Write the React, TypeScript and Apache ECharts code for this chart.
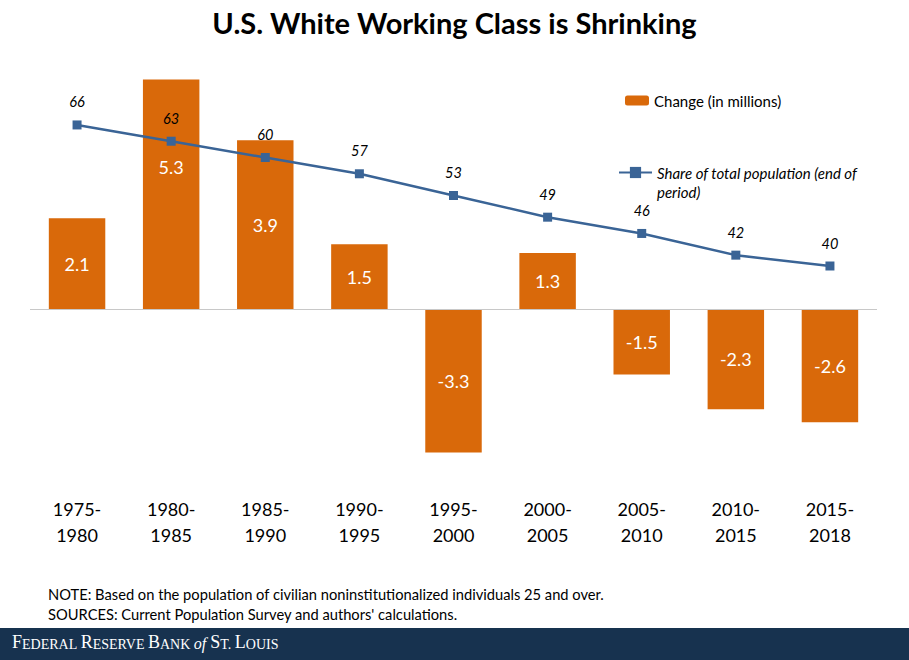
import React, { useEffect, useRef } from "react";
import * as echarts from "echarts";

const categories = ["1975-\n1980", "1980-\n1985", "1985-\n1990", "1990-\n1995", "1995-\n2000", "2000-\n2005", "2005-\n2010", "2010-\n2015", "2015-\n2018"];
const changeMillions = [2.1, 5.3, 3.9, 1.5, -3.3, 1.3, -1.5, -2.3, -2.6];
const sharePct = [66, 63, 60, 57, 53, 49, 46, 42, 40];
const barName = "Change (in millions)";
const lineName = "Share of total population (end of period)";

const FONT = "Lato, 'Open Sans', sans-serif";
const ORANGE = "#D9690A";
const BLUE = "#3A6496";

export default function App() {
  const ref = useRef<HTMLDivElement>(null);
  useEffect(() => {
    document.body.style.margin = "0";
    const chart = echarts.init(ref.current!, undefined, { renderer: "svg" });
    chart.setOption({
      animation: false,
      backgroundColor: "#ffffff",
      textStyle: { fontFamily: FONT },
      title: {
        text: "U.S. White Working Class is Shrinking",
        left: "center",
        top: 3,
        textStyle: { fontFamily: FONT, fontSize: 29, fontWeight: "bold", color: "#000" },
      },
      legend: [
        {
          data: [barName],
          left: 620,
          top: 88,
          itemWidth: 24,
          itemHeight: 10,
          itemGap: 4,
          textStyle: { fontFamily: FONT, fontSize: 15, color: "#000" },
        },
        {
          data: [lineName],
          left: 613,
          top: 139,
          itemWidth: 33,
          itemHeight: 14,
          formatter: () => "\nShare of total population (end of\nperiod)",
          textStyle: {
            fontFamily: FONT,
            fontSize: 15,
            fontStyle: "italic",
            color: "#000",
            lineHeight: 19,
          },
        },
      ],
      grid: { left: 30, right: 32, top: 49, bottom: 177, containLabel: false },
      xAxis: {
        type: "category",
        data: categories,
        axisLine: { show: false, onZero: false },
        axisTick: { show: false },
        axisLabel: { fontFamily: FONT, fontSize: 18, color: "#000", lineHeight: 26, margin: 13 },
      },
      yAxis: [
        { type: "value", min: -4, max: 6, interval: 1, show: false, splitLine: { show: false } },
        { type: "value", min: 0, max: 80, interval: 10, show: false, splitLine: { show: false } },
      ],
      series: [
        {
          name: barName,
          type: "bar",
          yAxisIndex: 0,
          barWidth: "60%",
          itemStyle: { color: ORANGE },
          data: changeMillions.map((v, i) =>
            i === 1 ? { value: v, label: { offset: [0, -27] } } : { value: v }
          ),
          label: {
            show: true,
            position: "inside",
            color: "#ffffff",
            fontFamily: FONT,
            fontSize: 18,
            formatter: (p: any) => p.value.toFixed(1),
          },
          markLine: {
            silent: true,
            symbol: "none",
            label: { show: false },
            lineStyle: { color: "#c8c8c8", width: 1, type: "solid" },
            data: [{ yAxis: 0 }],
          },
        },
        {
          name: lineName,
          type: "line",
          yAxisIndex: 1,
          data: sharePct,
          symbol: "rect",
          symbolSize: 9,
          lineStyle: { color: BLUE, width: 2.5 },
          itemStyle: { color: BLUE },
          label: {
            show: true,
            position: "top",
            distance: 11,
            fontFamily: FONT,
            fontSize: 14.5,
            fontStyle: "italic",
            color: "#000",
          },
          z: 5,
        },
      ],
      graphic: [
        {
          type: "text",
          left: 48,
          top: 586,
          style: {
            text: "NOTE: Based on the population of civilian noninstitutionalized individuals 25 and over.",
            fontFamily: FONT,
            fontSize: 14.7,
            fill: "#000",
          },
        },
        {
          type: "text",
          left: 48,
          top: 606,
          style: {
            text: "SOURCES: Current Population Survey and authors' calculations.",
            fontFamily: FONT,
            fontSize: 14.7,
            fill: "#000",
          },
        },
        {
          type: "rect",
          left: 0,
          top: 628,
          shape: { width: 909, height: 32 },
          style: { fill: "#17324F" },
        },
        {
          type: "text",
          left: 12,
          top: 633,
          style: {
            text: "{b|F}{s|EDERAL }{b|R}{s|ESERVE }{b|B}{s|ANK }{i|of }{b|S}{s|T. }{b|L}{s|OUIS}",
            fill: "#ffffff",
            rich: {
              b: { fontFamily: "'Liberation Serif', serif", fontSize: 18, fill: "#fff", verticalAlign: "bottom", lineHeight: 20 },
              s: { fontFamily: "'Liberation Serif', serif", fontSize: 14, fill: "#fff", verticalAlign: "bottom", lineHeight: 20 },
              i: { fontFamily: "'Liberation Serif', serif", fontSize: 16, fontStyle: "italic", fill: "#fff", verticalAlign: "bottom", lineHeight: 20 },
            },
          },
        },
      ],
    });
    return () => chart.dispose();
  }, []);
  return <div ref={ref} style={{ width: 909, height: 660, position: "absolute", left: 0, top: 0 }} />;
}
